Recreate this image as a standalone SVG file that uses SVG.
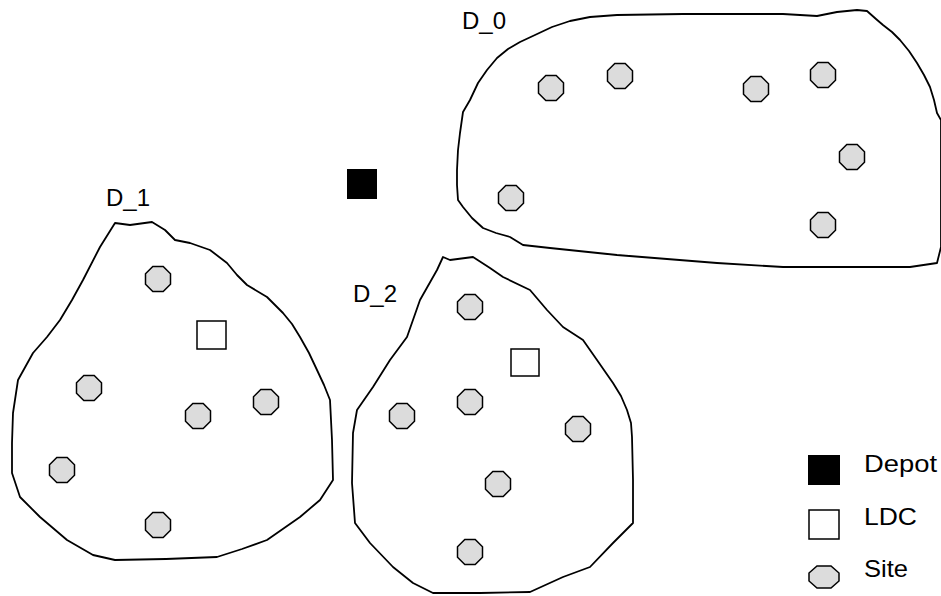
<svg xmlns="http://www.w3.org/2000/svg" xmlns:xlink="http://www.w3.org/1999/xlink" width="941" height="596" viewBox="0 0 941 596">
<style>
.region{fill:none;stroke:#000;stroke-width:1.8;stroke-linejoin:round}
.site{fill:#dcdcdc;stroke:#000;stroke-width:1.5}
.ldc{fill:#fff;stroke:#000;stroke-width:1.5}
.depot{fill:#000}
.lbl{font-family:"Liberation Sans",Arial,sans-serif;font-size:24px;fill:#000}
</style>
<defs>
<polygon id="oct" points="12.5,5.2 5.2,12.5 -5.2,12.5 -12.5,5.2 -12.5,-5.2 -5.2,-12.5 5.2,-12.5 12.5,-5.2"/>
</defs>
<rect width="941" height="596" fill="#fff"/>

<g id="D_0">
<polygon class="region" points="857,10 867,11 876,19 883,25 892,32 900,40 909,51 917,63 924,75 930,87 934,100 937,113 941,120 941,247 937,263 910,267 783,267 717,263 617,255 550,248 523,245 510,237 496,233 483,228 472,218 463,207 458,200 457,185 457,170 458,150 460,133 463,112 470,100 478,83 487,70 497,58 508,49 520,42 535,35 552,27 570,21 590,17 617,15 683,14 783,14 817,16 837,12"/>
<text class="lbl" x="462" y="29">D_0</text>
<use class="site" href="#oct" x="551" y="88"/>
<use class="site" href="#oct" x="620" y="76"/>
<use class="site" href="#oct" x="756" y="89"/>
<use class="site" href="#oct" x="823" y="75"/>
<use class="site" href="#oct" x="852" y="157"/>
<use class="site" href="#oct" x="511" y="198"/>
<use class="site" href="#oct" x="823" y="225"/>
</g>

<g id="D_1">
<polygon class="region" points="115,223 130,225 152,222 165,230 175,240 190,243 210,250 227,263 237,275 247,285 267,297 283,313 292,324 300,337 309,353 317,370 324,385 330,400 332,440 333,480 320,500 300,517 267,540 242,549 217,557 166,559 115,560 93,555 67,540 40,517 20,497 12,473 12,443 13,413 18,380 33,353 47,337 60,320 72,300 83,280 100,247"/>
<text class="lbl" x="106" y="206">D_1</text>
<rect class="ldc" x="197" y="321" width="29" height="28"/>
<use class="site" href="#oct" x="158" y="279"/>
<use class="site" href="#oct" x="89" y="388"/>
<use class="site" href="#oct" x="198" y="416"/>
<use class="site" href="#oct" x="266" y="402"/>
<use class="site" href="#oct" x="62" y="470"/>
<use class="site" href="#oct" x="158" y="525"/>
</g>

<g id="D_2">
<polygon class="region" points="443,257 450,260 473,257 490,268 503,277 530,290 547,310 563,327 583,340 597,360 613,383 621,396 627,410 631,423 632,437 633,480 633,523 613,543 590,567 563,577 530,592 480,593 433,593 413,583 393,567 370,543 355,523 352,483 353,433 357,410 373,387 390,360 407,337 420,300 437,270"/>
<text class="lbl" x="353" y="302">D_2</text>
<rect class="ldc" x="511" y="349" width="28" height="27"/>
<use class="site" href="#oct" x="470" y="307"/>
<use class="site" href="#oct" x="470" y="402"/>
<use class="site" href="#oct" x="402" y="416"/>
<use class="site" href="#oct" x="578" y="429"/>
<use class="site" href="#oct" x="498" y="484"/>
<use class="site" href="#oct" x="470" y="552"/>
</g>

<g id="depot">
<rect class="depot" x="347" y="169" width="30" height="30"/>
</g>

<g id="legend">
<g id="legend-depot">
<rect class="depot" x="808" y="455" width="32" height="30"/>
<text class="lbl" x="864" y="472" textLength="73" lengthAdjust="spacingAndGlyphs">Depot</text>
</g>
<g id="legend-ldc">
<rect class="ldc" x="809" y="510" width="30" height="29"/>
<text class="lbl" x="864" y="525" textLength="53" lengthAdjust="spacingAndGlyphs">LDC</text>
</g>
<g id="legend-site">
<polygon class="site" points="839,581 831,588 817,588 809,581 809,573 817,566 831,566 839,573"/>
<text class="lbl" x="864" y="577" textLength="44" lengthAdjust="spacingAndGlyphs">Site</text>
</g>
</g>
</svg>
